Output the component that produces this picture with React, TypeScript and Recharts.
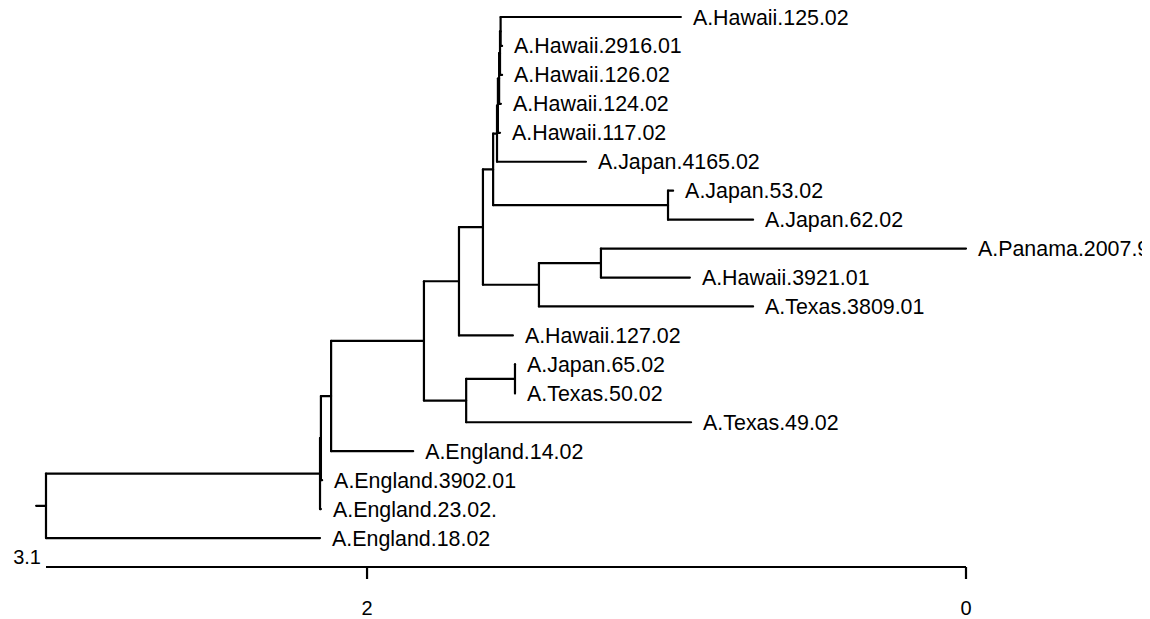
import { ComposedChart, XAxis, YAxis, Scatter, ReferenceLine } from "recharts";

// leaves, top to bottom; heights are distance from the tips (0 = present)
const leafLabels = [
  "A.Hawaii.125.02",
  "A.Hawaii.2916.01",
  "A.Hawaii.126.02",
  "A.Hawaii.124.02",
  "A.Hawaii.117.02",
  "A.Japan.4165.02",
  "A.Japan.53.02",
  "A.Japan.62.02",
  "A.Panama.2007.9",
  "A.Hawaii.3921.01",
  "A.Texas.3809.01",
  "A.Hawaii.127.02",
  "A.Japan.65.02",
  "A.Texas.50.02",
  "A.Texas.49.02",
  "A.England.14.02",
  "A.England.3902.01",
  "A.England.23.02.",
  "A.England.18.02",
];
const leafHeights = [
  0.952, 1.549, 1.549, 1.553, 1.556, 1.269, 0.978, 0.711, 0.0, 0.922, 0.711,
  1.513, 1.506, 1.506, 0.918, 1.846, 2.15, 2.154, 2.157,
];

// internal nodes (children listed before parents)
const nodeIds = ["n1", "n2", "n3", "n4", "m", "k", "l", "i", "h", "g", "e", "j", "f", "e2", "d", "c", "b", "root"];
const nodeHeights = [1.554, 1.556, 1.559, 1.563, 1.566, 0.995, 1.579, 1.219, 1.426, 1.613, 1.693, 1.506, 1.669, 1.81, 2.12, 2.154, 2.157, 3.072];
const nodeChildren = [
  ["A.Hawaii.125.02", "A.Hawaii.2916.01"],
  ["n1", "A.Hawaii.126.02"],
  ["n2", "A.Hawaii.124.02"],
  ["n3", "A.Hawaii.117.02"],
  ["n4", "A.Japan.4165.02"],
  ["A.Japan.53.02", "A.Japan.62.02"],
  ["m", "k"],
  ["A.Panama.2007.9", "A.Hawaii.3921.01"],
  ["i", "A.Texas.3809.01"],
  ["l", "h"],
  ["g", "A.Hawaii.127.02"],
  ["A.Japan.65.02", "A.Texas.50.02"],
  ["j", "A.Texas.49.02"],
  ["e", "f"],
  ["e2", "A.England.14.02"],
  ["d", "A.England.3902.01"],
  ["c", "A.England.23.02."],
  ["b", "A.England.18.02"],
];
const ROOT_EDGE = 0.033;
const ROOT_HEIGHT = 3.072;

const axisTicks = [ROOT_HEIGHT, 2, 0];
const axisTickLabels = ["3.1", "2", "0"];

const FONT = "'Liberation Sans', Arial, sans-serif";

// ape-style layout: leaf y = row index, node y = mean of its children
const pos: Record<string, { x: number; y: number }> = {};
leafLabels.forEach((name, i) => {
  pos[name] = { x: leafHeights[i], y: i + 1 };
});
const segments: { x1: number; y1: number; x2: number; y2: number }[] = [];
nodeIds.forEach((id, i) => {
  const h = nodeHeights[i];
  const kids = nodeChildren[i].map((c) => pos[c]);
  const ys = kids.map((k) => k.y);
  pos[id] = { x: h, y: ys.reduce((a, b) => a + b, 0) / ys.length };
  segments.push({ x1: h, y1: Math.min(...ys), x2: h, y2: Math.max(...ys) });
  kids.forEach((k) => segments.push({ x1: h, y1: k.y, x2: k.x, y2: k.y }));
});
const rootPos = pos["root"];
segments.push({ x1: ROOT_HEIGHT + ROOT_EDGE, y1: rootPos.y, x2: ROOT_HEIGHT, y2: rootPos.y });

const leafPoints = leafLabels.map((name, i) => ({ x: leafHeights[i], y: i + 1, name }));

function LeafLabel(props: any) {
  const { cx, cy, payload } = props;
  return (
    <text x={cx + 12} y={cy} dy="0.35em" fontSize={21.4} fontFamily={FONT} fill="#000">
      {payload.name}
    </text>
  );
}

function AxisTick(props: any) {
  const { x, y, payload } = props;
  const idx = axisTicks.indexOf(payload.value);
  const label = idx >= 0 ? axisTickLabels[idx] : String(payload.value);
  if (payload.value === ROOT_HEIGHT) {
    return (
      <text x={x - 5} y={y - 3} textAnchor="end" fontSize={20} fontFamily={FONT} fill="#000">
        {label}
      </text>
    );
  }
  return (
    <g>
      <line x1={x} x2={x} y1={y} y2={y + 12} stroke="#000" strokeWidth={2.2} />
      <text x={x} y={y + 48} textAnchor="middle" fontSize={20} fontFamily={FONT} fill="#000">
        {label}
      </text>
    </g>
  );
}

export default function App() {
  return (
    <div style={{ width: 1142, height: 611, background: "#fff" }}>
      <ComposedChart
        width={1142}
        height={611}
        margin={{ top: 9, right: 184, bottom: 0, left: 38 }}
        style={{ overflow: "visible" }}
      >
        <XAxis
          type="number"
          dataKey="x"
          domain={[0, ROOT_HEIGHT]}
          reversed
          ticks={axisTicks}
          interval={0}
          tick={AxisTick}
          tickLine={false}
          tickSize={0}
          tickMargin={0}
          axisLine={{ stroke: "#000", strokeWidth: 2.2 }}
          height={52}
        />
        <YAxis type="number" dataKey="y" domain={[1, 20]} reversed hide />
        {segments.map((s, i) => (
          <ReferenceLine
            key={i}
            segment={[
              { x: s.x1, y: s.y1 },
              { x: s.x2, y: s.y2 },
            ]}
            stroke="#000"
            strokeWidth={2.2}
            strokeLinecap="round"
            ifOverflow="visible"
          />
        ))}
        <Scatter data={leafPoints} shape={LeafLabel} isAnimationActive={false} />
      </ComposedChart>
    </div>
  );
}
